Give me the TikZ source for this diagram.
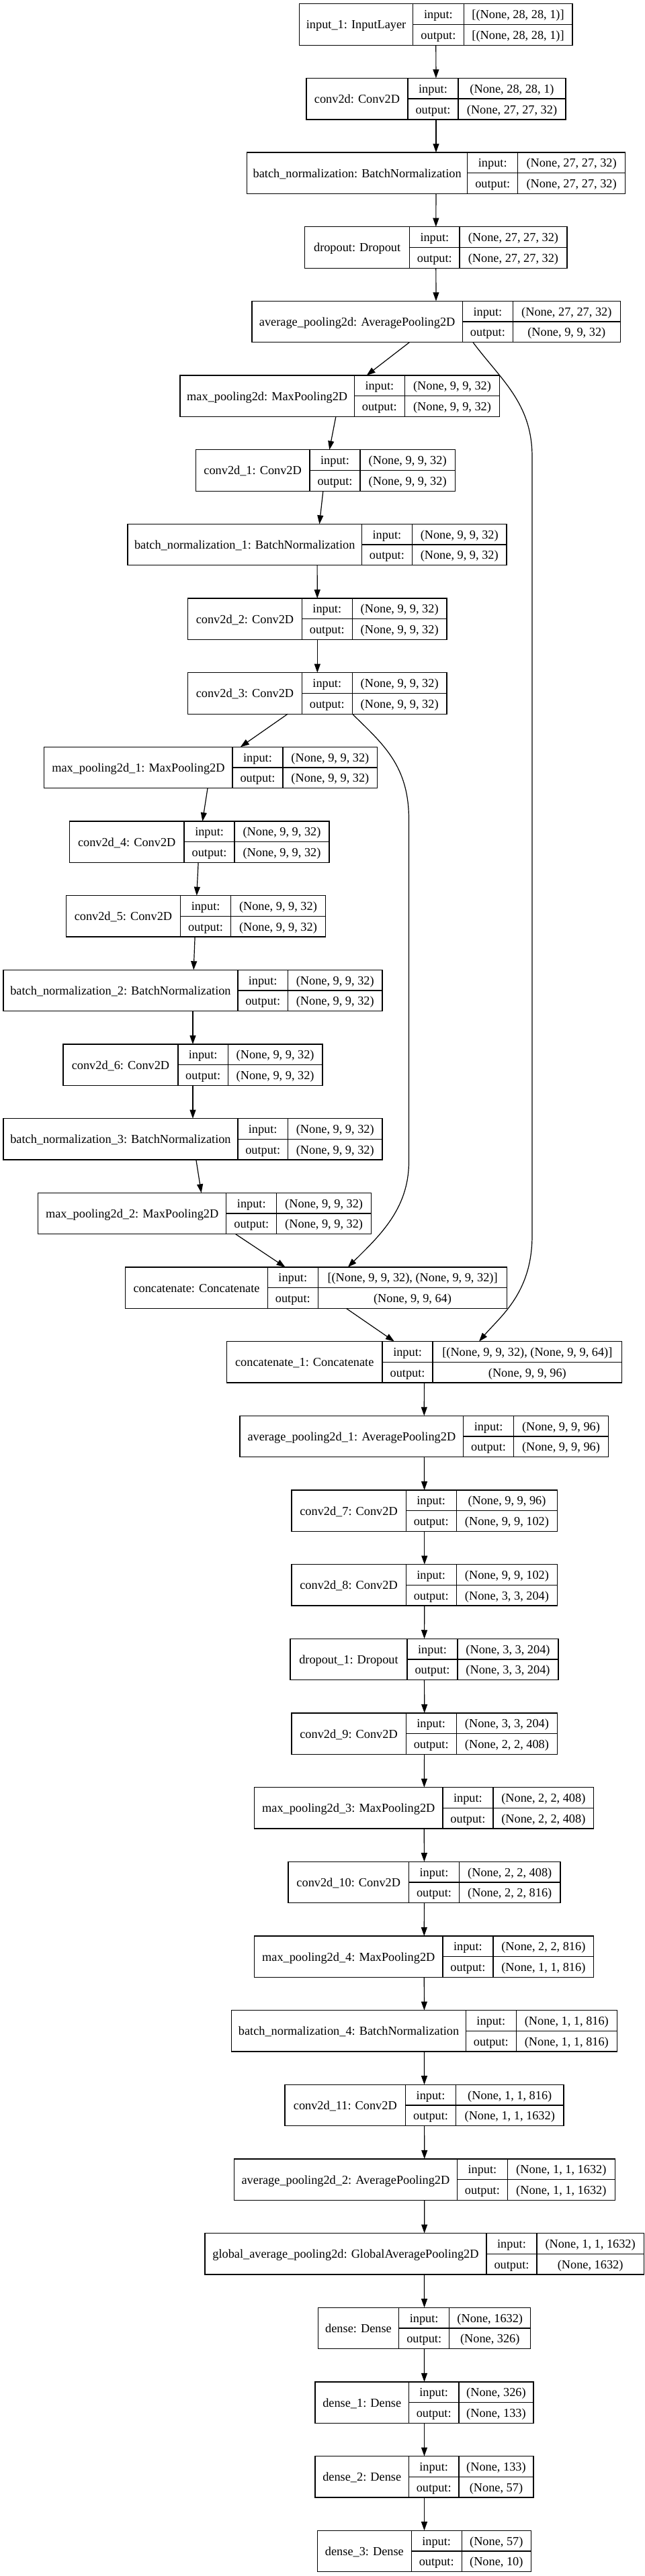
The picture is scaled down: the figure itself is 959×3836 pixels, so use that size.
\documentclass[tikz,border=0pt]{standalone}
\usepackage{fontspec}
\setmainfont{Liberation Serif}
\usetikzlibrary{arrows.meta}

% one record: #1 name, #2 label, #3-#6 cell edges, #7 row, #8 input, #9 output
\newcommand{\nnlayer}[9]{%
  \pgfmathsetmacro\ytop{5.7+110.66*(#7-1)}
  \pgfmathsetmacro\ymid{\ytop+30.75}
  \pgfmathsetmacro\ybot{\ytop+61.5}
  \node[layerbox, minimum width={(#6-#3)*1pt}] (#1) at (#3,\ytop) {};
  \draw[cell] (#4,\ytop) -- (#4,\ybot) (#5,\ytop) -- (#5,\ybot) (#4,\ymid) -- (#6,\ymid);
  \node[txt] (#1-name) at ({(#3+#4)/2},\ymid+6.5) {#2};
  \node[txt] (#1-il) at ({(#4+#5)/2},\ytop+21.9) {input:};
  \node[txt] (#1-ol) at ({(#4+#5)/2},\ymid+21.9) {output:};
  \node[txt] (#1-in) at ({(#5+#6)/2},\ytop+21.9) {#8};
  \node[txt] (#1-out) at ({(#5+#6)/2},\ymid+21.9) {#9};
}

\begin{document}
\begin{tikzpicture}[x=1pt, y=-1pt,
  layerbox/.style={draw, rectangle, line width=1.3pt, minimum height=61.5pt,
    inner sep=0pt, outer sep=0pt, anchor=north west},
  cell/.style={line width=1.3pt},
  txt/.style={inner sep=0pt, anchor=base, font=\fontsize{18.3}{22}\selectfont},
  conn/.style={-{Triangle[length=13pt, width=9pt]}, line width=1.2pt}]
  \path[fill=white, use as bounding box] (0,0) rectangle (959,3836);

  % main trunk
  \nnlayer{input1}{input\_1: InputLayer}{445.6}{614.6}{690.2}{851.9}{1}{[(None, 28, 28, 1)]}{[(None, 28, 28, 1)]}
  \nnlayer{conv0}{conv2d: Conv2D}{456}{607}{682}{842}{2}{(None, 28, 28, 1)}{(None, 27, 27, 32)}
  \nnlayer{bn0}{batch\_normalization: BatchNormalization}{367.5}{695.8}{770.7}{930.5}{3}{(None, 27, 27, 32)}{(None, 27, 27, 32)}
  \nnlayer{drop0}{dropout: Dropout}{453.6}{609.7}{684}{843.9}{4}{(None, 27, 27, 32)}{(None, 27, 27, 32)}
  \nnlayer{avg0}{average\_pooling2d: AveragePooling2D}{374.9}{688.4}{763.4}{923.2}{5}{(None, 27, 27, 32)}{(None, 9, 9, 32)}

  % left branch
  \nnlayer{mp0}{max\_pooling2d: MaxPooling2D}{268}{527.4}{602.3}{743.7}{6}{(None, 9, 9, 32)}{(None, 9, 9, 32)}
  \nnlayer{conv1}{conv2d\_1: Conv2D}{291.3}{461}{536}{677.3}{7}{(None, 9, 9, 32)}{(None, 9, 9, 32)}
  \nnlayer{bn1}{batch\_normalization\_1: BatchNormalization}{190}{538.4}{613.4}{754}{8}{(None, 9, 9, 32)}{(None, 9, 9, 32)}
  \nnlayer{conv2}{conv2d\_2: Conv2D}{279.7}{449.3}{524.3}{665}{9}{(None, 9, 9, 32)}{(None, 9, 9, 32)}
  \nnlayer{conv3}{conv2d\_3: Conv2D}{279.7}{449.3}{524.3}{665}{10}{(None, 9, 9, 32)}{(None, 9, 9, 32)}
  \nnlayer{mp1}{max\_pooling2d\_1: MaxPooling2D}{65.8}{346}{421}{561.8}{11}{(None, 9, 9, 32)}{(None, 9, 9, 32)}
  \nnlayer{conv4}{conv2d\_4: Conv2D}{103.3}{274.1}{349.1}{489.9}{12}{(None, 9, 9, 32)}{(None, 9, 9, 32)}
  \nnlayer{conv5}{conv2d\_5: Conv2D}{98.3}{268.6}{343.6}{484.3}{13}{(None, 9, 9, 32)}{(None, 9, 9, 32)}
  \nnlayer{bn2}{batch\_normalization\_2: BatchNormalization}{4.9}{354}{428.4}{569.1}{14}{(None, 9, 9, 32)}{(None, 9, 9, 32)}
  \nnlayer{conv6}{conv2d\_6: Conv2D}{94}{265}{339.3}{480}{15}{(None, 9, 9, 32)}{(None, 9, 9, 32)}
  \nnlayer{bn3}{batch\_normalization\_3: BatchNormalization}{4.9}{354}{428.4}{569.1}{16}{(None, 9, 9, 32)}{(None, 9, 9, 32)}
  \nnlayer{mp2}{max\_pooling2d\_2: MaxPooling2D}{56.5}{336.8}{411.8}{552.5}{17}{(None, 9, 9, 32)}{(None, 9, 9, 32)}
  \nnlayer{cat0}{concatenate: Concatenate}{186.8}{398.3}{473.3}{754.8}{18}{[(None, 9, 9, 32), (None, 9, 9, 32)]}{(None, 9, 9, 64)}

  % lower trunk
  \nnlayer{cat1}{concatenate\_1: Concatenate}{337.4}{569.1}{644.1}{925.6}{19}{[(None, 9, 9, 32), (None, 9, 9, 64)]}{(None, 9, 9, 96)}
  \nnlayer{avg1}{average\_pooling2d\_1: AveragePooling2D}{357.1}{689.6}{764.6}{905.3}{20}{(None, 9, 9, 96)}{(None, 9, 9, 96)}
  \nnlayer{conv7}{conv2d\_7: Conv2D}{433.9}{604.2}{679.2}{829.7}{21}{(None, 9, 9, 96)}{(None, 9, 9, 102)}
  \nnlayer{conv8}{conv2d\_8: Conv2D}{433.9}{604.2}{679.2}{829.7}{22}{(None, 9, 9, 102)}{(None, 3, 3, 204)}
  \nnlayer{drop1}{dropout\_1: Dropout}{432}{606}{681}{831}{23}{(None, 3, 3, 204)}{(None, 3, 3, 204)}
  \nnlayer{conv9}{conv2d\_9: Conv2D}{433.9}{604.2}{679.2}{829.7}{24}{(None, 3, 3, 204)}{(None, 2, 2, 408)}
  \nnlayer{mp3}{max\_pooling2d\_3: MaxPooling2D}{378.6}{658.9}{733.9}{883.8}{25}{(None, 2, 2, 408)}{(None, 2, 2, 408)}
  \nnlayer{conv10}{conv2d\_10: Conv2D}{429}{608.5}{683.5}{834}{26}{(None, 2, 2, 408)}{(None, 2, 2, 816)}
  \nnlayer{mp4}{max\_pooling2d\_4: MaxPooling2D}{378.6}{658.9}{733.9}{883.8}{27}{(None, 2, 2, 816)}{(None, 1, 1, 816)}
  \nnlayer{bn4}{batch\_normalization\_4: BatchNormalization}{344.8}{693.3}{768.3}{918.3}{28}{(None, 1, 1, 816)}{(None, 1, 1, 816)}
  \nnlayer{conv11}{conv2d\_11: Conv2D}{424}{603.6}{678.5}{839}{29}{(None, 1, 1, 816)}{(None, 1, 1, 1632)}
  \nnlayer{avg2}{average\_pooling2d\_2: AveragePooling2D}{348.5}{680.4}{755.4}{915.2}{30}{(None, 1, 1, 1632)}{(None, 1, 1, 1632)}
  \nnlayer{gap}{global\_average\_pooling2d: GlobalAveragePooling2D}{304.9}{724}{799}{958.2}{31}{(None, 1, 1, 1632)}{(None, 1632)}
  \nnlayer{dense0}{dense: Dense}{473.3}{593.7}{668.7}{789.8}{32}{(None, 1632)}{(None, 326)}
  \nnlayer{dense1}{dense\_1: Dense}{469}{608.5}{682.9}{794}{33}{(None, 326)}{(None, 133)}
  \nnlayer{dense2}{dense\_2: Dense}{469}{608.5}{682.9}{794}{34}{(None, 133)}{(None, 57)}
  \nnlayer{dense3}{dense\_3: Dense}{472.6}{612.2}{687.2}{790.4}{35}{(None, 57)}{(None, 10)}

  % straight connectors
  \foreach \a/\b in {input1/conv0, conv0/bn0, bn0/drop0, drop0/avg0, avg0/mp0,
      mp0/conv1, conv1/bn1, bn1/conv2, conv2/conv3, conv3/mp1, mp1/conv4,
      conv4/conv5, conv5/bn2, bn2/conv6, conv6/bn3, bn3/mp2, mp2/cat0,
      cat0/cat1, cat1/avg1, avg1/conv7, conv7/conv8, conv8/drop1, drop1/conv9,
      conv9/mp3, mp3/conv10, conv10/mp4, mp4/bn4, bn4/conv11, conv11/avg2,
      avg2/gap, gap/dense0, dense0/dense1, dense1/dense2, dense2/dense3}
    \draw[conn] (\a) -- (\b);

  % skip connections
  \draw[conn] ([xshift=55pt]avg0.south) .. controls (745,565) and (792,600) .. (792,680)
    -- (792,1840) .. controls (792,1925) and (745,1960) .. ([xshift=81.5pt]cat1.north);
  \draw[conn] ([xshift=52pt]conv3.south) .. controls (570,1108) and (608.5,1140) .. (608.5,1220)
    -- (608.5,1730) .. controls (608.5,1800) and (565,1840) .. ([xshift=47pt]cat0.north);
\end{tikzpicture}
\end{document}
